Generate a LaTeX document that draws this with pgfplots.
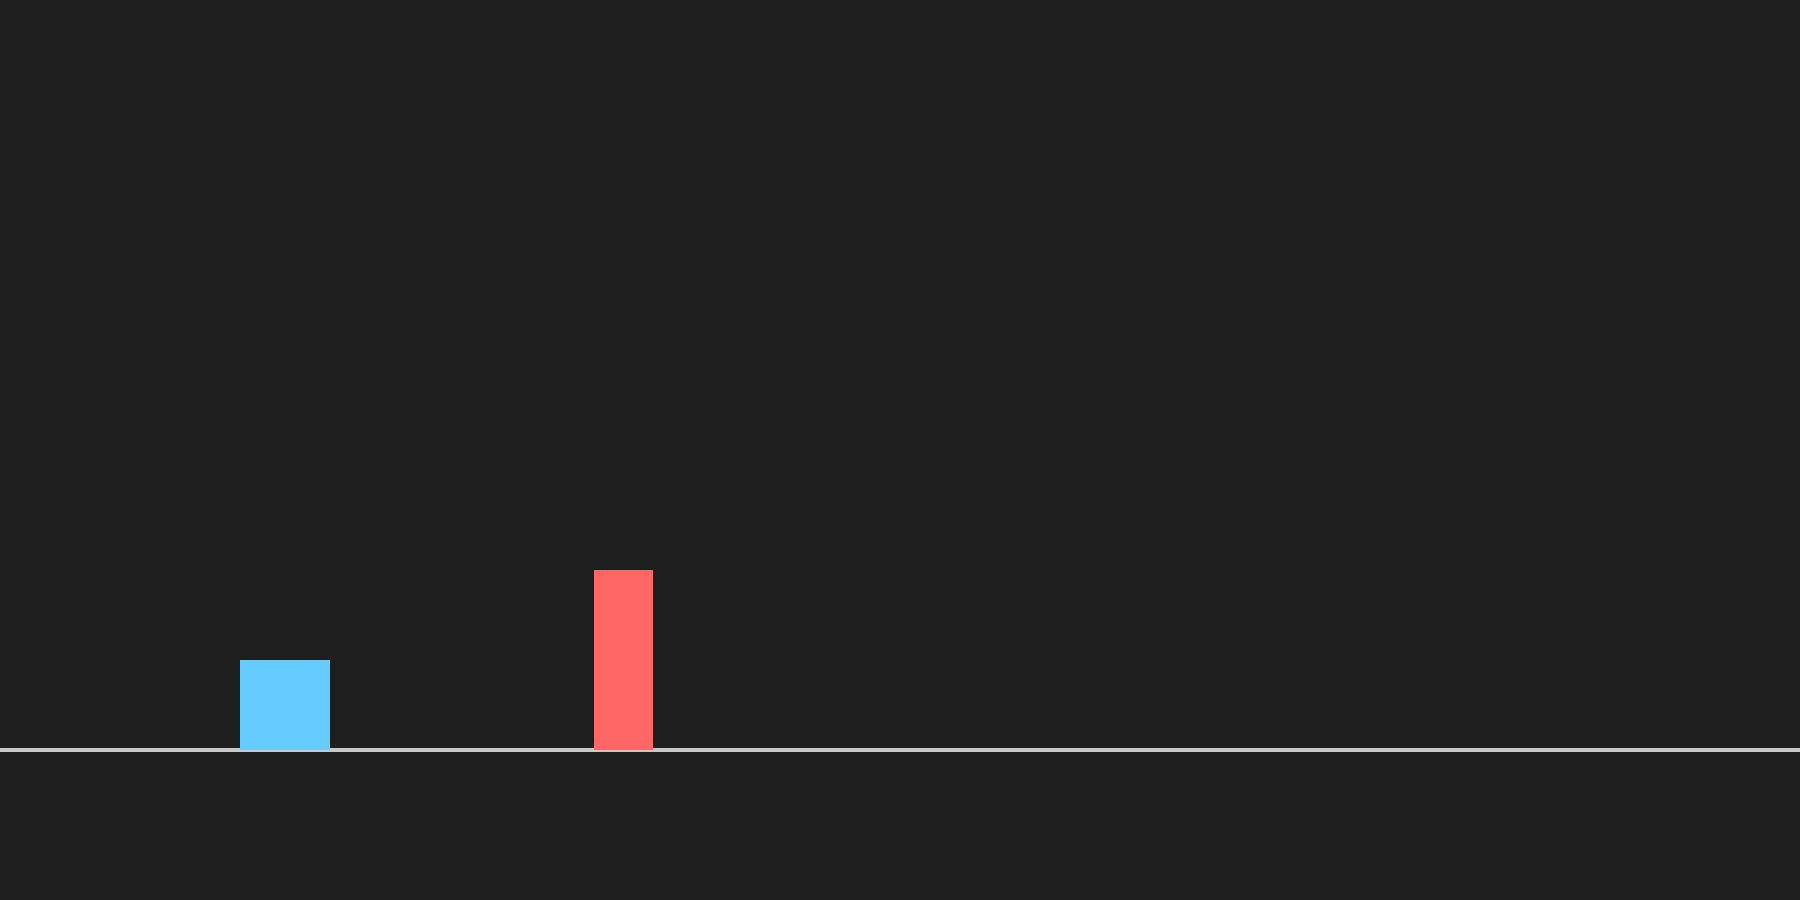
\documentclass[border=0pt]{standalone}
\usepackage{pgfplots}
\pgfplotsset{compat=1.18}
\definecolor{bg}{HTML}{1E1E1E}
\definecolor{barblue}{HTML}{66CCFF}
\definecolor{barred}{HTML}{FF6666}
\definecolor{axisgray}{HTML}{C8C8C8}
\begin{document}
\begin{tikzpicture}
\useasboundingbox (0,0) rectangle (18,9);
\fill[bg] (0,0) rectangle (18,9);
\begin{axis}[
  at={(0,0)}, anchor=south west,
  scale only axis, width=18cm, height=9cm,
  xmin=0, xmax=18, ymin=-1.6667, ymax=8.3333,
  axis x line=middle, axis y line=none,
  x axis line style={-, draw=axisgray, line width=0.9pt},
  xtick=\empty, ytick=\empty,
  clip=false,
]
\addplot[ybar, bar shift=0pt, bar width=0.9, fill=barblue, draw=none]
  coordinates {(2.85,1)};
\addplot[ybar, bar shift=0pt, bar width=0.595, fill=barred, draw=none]
  coordinates {(6.2325,2.005)};
\end{axis}
\end{tikzpicture}
\end{document}
